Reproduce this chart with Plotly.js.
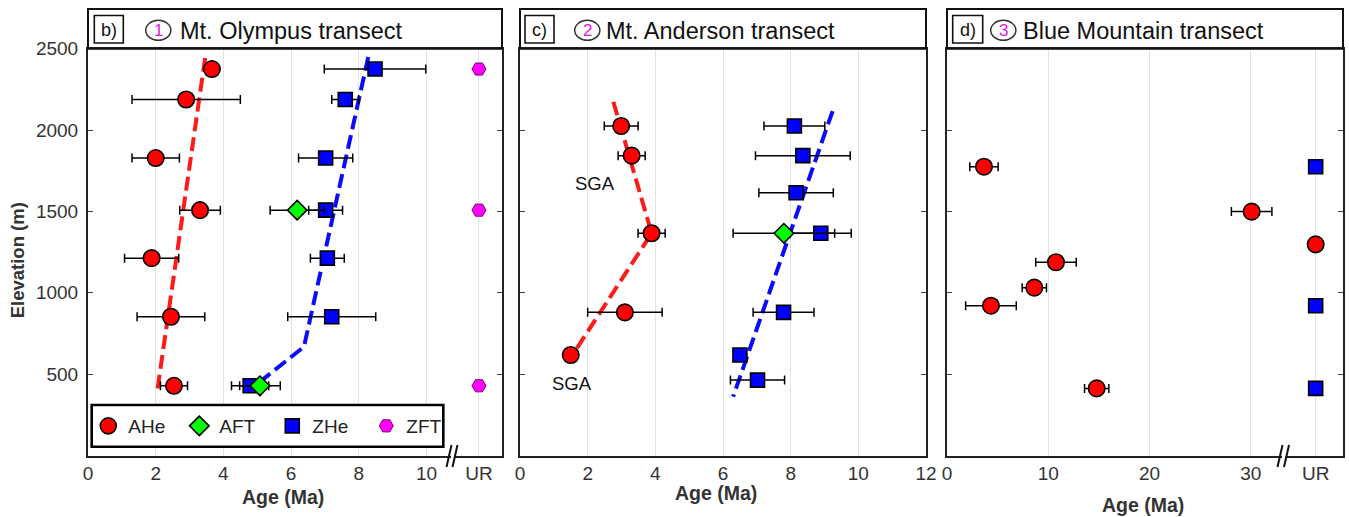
<!DOCTYPE html>
<html><head><meta charset="utf-8">
<script src="https://cdn.plot.ly/plotly-3.0.1.min.js"></script>
<style>html,body{margin:0;padding:0;background:#fff;}#chart{width:1349px;height:517px;}</style>
</head><body><div id="chart"></div>
<script>
// ================= DATA =================
// Panel b) Mt. Olympus transect
const olyAHeAge  = [3.66, 2.90, 2.00, 3.31, 1.88, 2.45, 2.54];
const olyAHeErr  = [0.0, 1.6, 0.7, 0.6, 0.8, 1.0, 0.4];
const olyAHeElev = [2375, 2188, 1828, 1508, 1213, 853, 429];
const olyZHeAge  = [8.48, 7.60, 7.02, 7.02, 7.07, 7.20, 4.79];
const olyZHeErr  = [1.5, 0.4, 0.8, 0.5, 0.5, 1.3, 0.55];
const olyZHeElev = [2375, 2188, 1828, 1508, 1213, 853, 429];
const olyAFTAge  = [6.18, 5.08];
const olyAFTErr  = [0.8, 0.6];
const olyAFTElev = [1508, 429];
const olyZFTElev = [2375, 1508, 429];          // unreset (UR)
const olyAHeTrendAge  = [3.46, 2.05];
const olyAHeTrendElev = [2443, 403];
const olyZHeTrendAge  = [8.28, 6.38, 5.00];
const olyZHeTrendElev = [2449, 669, 440];

// Panel c) Mt. Anderson transect
const andAHeAge  = [2.99, 3.30, 3.89, 3.10, 1.50];
const andAHeErr  = [0.5, 0.4, 0.4, 1.1, 0.0];
const andAHeElev = [2025, 1843, 1366, 880, 618];
const andZHeAge  = [8.11, 8.36, 8.16, 8.89, 7.79, 6.50, 7.02];
const andZHeErr  = [0.9, 1.4, 1.1, 0.9, 0.9, 0.0, 0.8];
const andZHeElev = [2025, 1843, 1615, 1366, 880, 618, 464];
const andAFTAge  = [7.80];
const andAFTErr  = [1.5];
const andAFTElev = [1366];
const andAHeTrendAge  = [2.76, 3.89, 1.68];
const andAHeTrendElev = [2174, 1366, 659];
const andZHeTrendAge  = [9.24, 6.30];
const andZHeTrendElev = [2117, 362];
const sgaLabels = ['SGA', 'SGA'];
const sgaAge    = [2.22, 1.53];
const sgaElev   = [1673, 446];

// Panel d) Blue Mountain transect
const bluAHeAge  = [3.65, 30.08, 10.76, 8.62, 4.34, 14.78];
const bluAHeErr  = [1.4, 2.0, 2.0, 1.2, 2.5, 1.2];
const bluAHeElev = [1775, 1499, 1188, 1032, 921, 413];
const bluAHeURElev = [1298];                   // unreset (UR)
const bluZHeURElev = [1775, 921, 413];         // unreset (UR)

// Axis tick labels
const elevTicks = [0, 500, 1000, 1500, 2000, 2500];
const ticksB = ['0', '2', '4', '6', '8', '10', 'UR'];
const ticksC = ['0', '2', '4', '6', '8', '10', '12'];
const ticksD = ['0', '10', '20', '30', 'UR'];
const panelTitles = ['Mt. Olympus transect', 'Mt. Anderson transect', 'Blue Mountain transect'];
const panelLetters = ['b)', 'c)', 'd)'];
const panelNums = ['1', '2', '3'];

// ================= STYLE / LAYOUT =================
const W = 1349, H = 517;
const px = x => x / W;
const py = y => 1 - y / H;
const FONT = 'Liberation Sans, Arial, Helvetica, sans-serif';
const PLOT_TOP = 48.7, PLOT_BOT = 455.6, BOX_TOP = 9;
const UR_B = 11.55, UR_D = 36.4;
const tickValsB = [0, 2, 4, 6, 8, 10, UR_B];
const tickValsC = [0, 2, 4, 6, 8, 10, 12];
const tickValsD = [0, 10, 20, 30, UR_D];

const panels = [
  {x0: 88,  x1: 502,  lb: [94.3, 123.3],  circ: 158.3,  tx: 180,    xtx: 283,   xty: 497},
  {x0: 520, x1: 926,  lb: [525, 554],     circ: 587.3,  tx: 606,    xtx: 715.5, xty: 493},
  {x0: 947, x1: 1343, lb: [952.7, 982.7], circ: 1003.3, tx: 1023.3, xtx: 1143,  xty: 505}
];

const M = {
  AHe: {symbol: 'circle',   size: 16.5, color: '#ff0000', line: {color: '#000', width: 1.6}},
  AFT: {symbol: 'diamond',  size: 15, color: '#00ff00', line: {color: '#000', width: 1.6}},
  ZHe: {symbol: 'square',   size: 14, color: '#0000ff', line: {color: '#000', width: 1.6}},
  ZFT: {symbol: 'hexagon2', size: 14, color: '#ff00ff', line: {color: '#7a007a', width: 1}}
};
const ERR = arr => ({type: 'data', array: arr, visible: true, color: '#000', thickness: 1.5, width: 4.5});

function pts(xa, ya, x, y, err, kind, showlegend) {
  const t = {type: 'scatter', mode: 'markers', x: x, y: y, xaxis: xa, yaxis: ya,
    name: kind, legendgroup: kind, showlegend: !!showlegend, marker: M[kind], hoverinfo: 'x+y'};
  if (err) t.error_x = ERR(err);
  return t;
}
function trend(xa, ya, x, y, color) {
  return {type: 'scatter', mode: 'lines', x: x, y: y, xaxis: xa, yaxis: ya, showlegend: false,
    line: {color: color, width: 4, dash: '14px,6px'}, hoverinfo: 'skip'};
}
const rep = (v, arr) => arr.map(() => v);

const aheB = pts('x', 'y', olyAHeAge, olyAHeElev, olyAHeErr, 'AHe', true);
const aftB = pts('x', 'y', olyAFTAge, olyAFTElev, olyAFTErr, 'AFT', true);
const zheB = pts('x', 'y', olyZHeAge, olyZHeElev, olyZHeErr, 'ZHe', true);
const zftB = pts('x', 'y', rep(UR_B, olyZFTElev), olyZFTElev, null, 'ZFT', true);
aheB.legendrank = 1; aftB.legendrank = 2; zheB.legendrank = 3; zftB.legendrank = 4;
aheB.legendwidth = 46; aftB.legendwidth = 48; zheB.legendwidth = 49; zftB.legendwidth = 40;

const data = [
  trend('x', 'y', olyAHeTrendAge, olyAHeTrendElev, '#ff1a1a'),
  trend('x', 'y', olyZHeTrendAge, olyZHeTrendElev, '#0a0aff'),
  aheB, zheB, aftB, zftB,

  trend('x2', 'y2', andAHeTrendAge, andAHeTrendElev, '#ff1a1a'),
  trend('x2', 'y2', andZHeTrendAge, andZHeTrendElev, '#0a0aff'),
  pts('x2', 'y2', andAHeAge, andAHeElev, andAHeErr, 'AHe', false),
  pts('x2', 'y2', andZHeAge, andZHeElev, andZHeErr, 'ZHe', false),
  pts('x2', 'y2', andAFTAge, andAFTElev, andAFTErr, 'AFT', false),

  pts('x3', 'y3', bluAHeAge, bluAHeElev, bluAHeErr, 'AHe', false),
  pts('x3', 'y3', rep(UR_D, bluAHeURElev), bluAHeURElev, null, 'AHe', false),
  pts('x3', 'y3', rep(UR_D, bluZHeURElev), bluZHeURElev, null, 'ZHe', false)
];

const AX = {showline: true, linecolor: '#222', linewidth: 2, mirror: 'ticks', zeroline: false,
  automargin: false, fixedrange: true, tickfont: {family: FONT, size: 19, color: '#333'}};
function xax(p, range, vals, text, anchor) {
  return Object.assign({}, AX, {domain: [px(p.x0), px(p.x1)], range: range, anchor: anchor,
    tickmode: 'array', tickvals: vals, ticktext: text, showgrid: true, gridcolor: '#e3e3e3',
    gridwidth: 1, ticks: ''});
}
function yax(anchor, show) {
  return Object.assign({}, AX, {domain: [py(PLOT_BOT), py(PLOT_TOP)], range: [0, 2500], anchor: anchor,
    tickmode: 'array', tickvals: elevTicks, ticktext: elevTicks.map(v => v === 0 ? '' : String(v)),
    showticklabels: show, showgrid: false, ticks: 'inside', ticklen: 5, tickwidth: 1, tickcolor: '#444',
    ticklabelstandoff: 4});
}

const shapes = [];
const annotations = [];
panels.forEach((p, i) => {
  shapes.push({type: 'rect', xref: 'paper', yref: 'paper', x0: px(p.x0), x1: px(p.x1),
    y0: py(PLOT_TOP), y1: py(BOX_TOP), line: {color: '#111', width: 2}, fillcolor: 'rgba(0,0,0,0)', layer: 'above'});
  shapes.push({type: 'rect', xref: 'paper', yref: 'paper', x0: px(p.lb[0]), x1: px(p.lb[1]),
    y0: py(43), y1: py(15.5), line: {color: '#111', width: 1.6}, layer: 'above'});
  shapes.push({type: 'circle', xref: 'paper', yref: 'paper', x0: px(p.circ - 12.6), x1: px(p.circ + 12.6),
    y0: py(40.3), y1: py(20.3), line: {color: '#333', width: 1.5}, layer: 'above'});
  annotations.push({xref: 'paper', yref: 'paper', x: px((p.lb[0] + p.lb[1]) / 2), y: py(30),
    text: panelLetters[i], showarrow: false, xanchor: 'center', yanchor: 'middle',
    font: {family: FONT, size: 18, color: '#111'}});
  annotations.push({xref: 'paper', yref: 'paper', x: px(p.circ), y: py(30.5),
    text: panelNums[i], showarrow: false, xanchor: 'center', yanchor: 'middle',
    font: {family: FONT, size: 17, color: '#e020e0'}});
  annotations.push({xref: 'paper', yref: 'paper', x: px(p.tx - 2), y: py(31),
    text: panelTitles[i], showarrow: false, xanchor: 'left', yanchor: 'middle',
    font: {family: FONT, size: 23.5, color: '#111'}});
  annotations.push({xref: 'paper', yref: 'paper', x: px(p.xtx), y: py(p.xty),
    text: '<b>Age (Ma)</b>', showarrow: false, xanchor: 'center', yanchor: 'middle',
    font: {family: FONT, size: 19.5, color: '#333'}});
});
annotations.push({xref: 'paper', yref: 'paper', x: px(17.3), y: py(260), textangle: -90,
  text: '<b>Elevation (m)</b>', showarrow: false, xanchor: 'center', yanchor: 'middle',
  font: {family: FONT, size: 18.5, color: '#333'}});
sgaLabels.forEach((s, i) => annotations.push({xref: 'x2', yref: 'y2', x: sgaAge[i], y: sgaElev[i],
  text: s, showarrow: false, xanchor: 'center', yanchor: 'middle', font: {family: FONT, size: 18.5, color: '#111'}}));

// legend frame
shapes.push({type: 'rect', xref: 'paper', yref: 'paper', x0: px(91.7), x1: px(443.3), y0: py(446.7), y1: py(405),
  line: {color: '#000', width: 2.6}, fillcolor: '#fff', layer: 'above'});

// axis-break marks
function brk(xa, xb) {
  shapes.push({type: 'rect', xref: 'paper', yref: 'paper', x0: px(xa + 2), x1: px(xb - 1), y0: py(459), y1: py(452),
    line: {width: 0}, fillcolor: '#fff', layer: 'above'});
  shapes.push({type: 'line', xref: 'paper', yref: 'paper', x0: px(xa - 2.5), y0: py(467), x1: px(xa + 2.5), y1: py(445),
    line: {color: '#111', width: 2}, layer: 'above'});
  shapes.push({type: 'line', xref: 'paper', yref: 'paper', x0: px(xb - 2.5), y0: py(467), x1: px(xb + 2.5), y1: py(445),
    line: {color: '#111', width: 2}, layer: 'above'});
}
brk(449, 455);
brk(1280, 1286.5);

const layout = {
  width: W, height: H, margin: {l: 0, r: 0, t: 0, b: 0}, paper_bgcolor: '#fff', plot_bgcolor: '#fff',
  font: {family: FONT, color: '#222'},
  showlegend: true,
  legend: {orientation: 'h', x: px(88.3), y: py(426), xanchor: 'left', yanchor: 'middle',
    bgcolor: 'rgba(0,0,0,0)', borderwidth: 0, entrywidth: 46, entrywidthmode: 'pixels',
    font: {family: FONT, size: 19, color: '#222'}, itemclick: false, itemdoubleclick: false, traceorder: 'normal'},
  xaxis:  xax(panels[0], [0, 12.23], tickValsB, ticksB, 'y'),
  xaxis2: xax(panels[1], [0, 12], tickValsC, ticksC, 'y2'),
  xaxis3: xax(panels[2], [0, 39.1], tickValsD, ticksD, 'y3'),
  yaxis:  yax('x', true),
  yaxis2: yax('x2', false),
  yaxis3: yax('x3', false),
  shapes: shapes,
  annotations: annotations
};

Plotly.newPlot('chart', data, layout, {displayModeBar: false, staticPlot: true});
</script></body></html>
